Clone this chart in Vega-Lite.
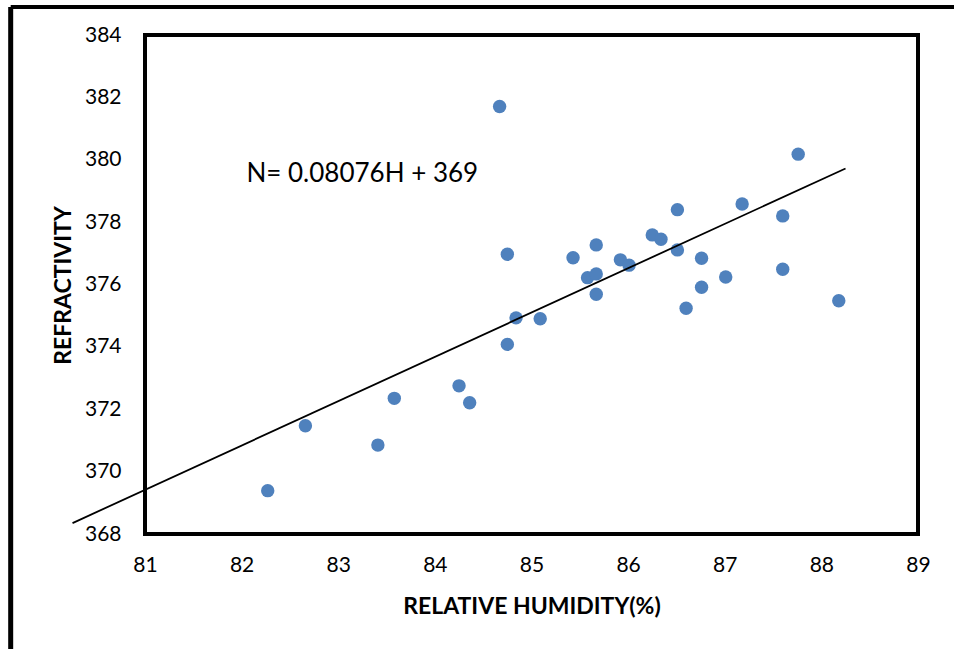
{
  "$schema": "https://vega.github.io/schema/vega-lite/v6.json",
  "width": 773,
  "height": 499,
  "autosize": {"type": "none"},
  "padding": {"left": 145, "top": 35, "right": 36, "bottom": 115},
  "background": "white",
  "config": {
    "view": {"stroke": "black", "strokeWidth": 4},
    "font": "Lato"
  },
  "datasets": {
    "points": [
      {"rh": 82.27, "n": 369.39},
      {"rh": 82.66, "n": 371.47},
      {"rh": 83.41, "n": 370.85},
      {"rh": 83.58, "n": 372.35},
      {"rh": 84.25, "n": 372.75},
      {"rh": 84.36, "n": 372.21},
      {"rh": 84.67, "n": 381.71},
      {"rh": 84.75, "n": 376.97},
      {"rh": 84.75, "n": 374.08},
      {"rh": 84.84, "n": 374.93},
      {"rh": 85.09, "n": 374.9},
      {"rh": 85.43, "n": 376.86},
      {"rh": 85.58, "n": 376.22},
      {"rh": 85.67, "n": 377.27},
      {"rh": 85.67, "n": 376.34},
      {"rh": 85.67, "n": 375.69},
      {"rh": 85.92, "n": 376.79},
      {"rh": 86.01, "n": 376.62},
      {"rh": 86.25, "n": 377.59},
      {"rh": 86.34, "n": 377.45},
      {"rh": 86.51, "n": 378.4},
      {"rh": 86.51, "n": 377.11},
      {"rh": 86.6, "n": 375.24},
      {"rh": 86.76, "n": 376.84},
      {"rh": 86.76, "n": 375.91},
      {"rh": 87.01, "n": 376.24},
      {"rh": 87.18, "n": 378.58},
      {"rh": 87.6, "n": 378.2},
      {"rh": 87.6, "n": 376.49},
      {"rh": 87.76, "n": 380.18},
      {"rh": 88.18, "n": 375.48}
    ],
    "trend": [
      {"rh": 80.25, "n": 368.35},
      {"rh": 88.25, "n": 379.72}
    ],
    "eq": [
      {"rh": 82.05, "n": 379.3, "label": "N= 0.08076H + 369"}
    ],
    "outerV": [
      {"x": 79.61, "y": 384.9, "y2": 364.2}
    ],
    "outerH": [
      {"x": 79.61, "x2": 89.4, "y": 384.9}
    ]
  },
  "layer": [
    {
      "data": {"name": "outerV"},
      "mark": {"type": "rule", "color": "black", "strokeWidth": 5, "clip": false},
      "encoding": {
        "x": {"field": "x", "type": "quantitative"},
        "y": {"field": "y", "type": "quantitative"},
        "y2": {"field": "y2"}
      }
    },
    {
      "data": {"name": "outerH"},
      "mark": {"type": "rule", "color": "black", "strokeWidth": 4, "clip": false},
      "encoding": {
        "x": {"field": "x", "type": "quantitative"},
        "x2": {"field": "x2"},
        "y": {"field": "y", "type": "quantitative"}
      }
    },
    {
      "data": {"name": "points"},
      "mark": {"type": "circle", "size": 180, "color": "#4F81BD", "opacity": 1},
      "encoding": {
        "x": {
          "field": "rh",
          "type": "quantitative",
          "scale": {"domain": [81, 89], "nice": false, "zero": false},
          "axis": {
            "title": "RELATIVE HUMIDITY(%)",
            "values": [81, 82, 83, 84, 85, 86, 87, 88, 89],
            "format": "d",
            "domain": false,
            "ticks": false,
            "grid": false,
            "labelFont": "Lato",
            "labelFontSize": 21,
            "labelColor": "black",
            "labelPadding": 20,
            "labelFlush": false,
            "titleFont": "Lato",
            "titleFontSize": 23,
            "titleFontWeight": "bold",
            "titleColor": "black",
            "titleBaseline": "middle",
            "titleY": 72
          }
        },
        "y": {
          "field": "n",
          "type": "quantitative",
          "scale": {"domain": [368, 384], "nice": false, "zero": false},
          "axis": {
            "title": "REFRACTIVITY",
            "values": [368, 370, 372, 374, 376, 378, 380, 382, 384],
            "format": "d",
            "domain": false,
            "ticks": false,
            "grid": false,
            "labelFont": "Lato",
            "labelFontSize": 21,
            "labelColor": "black",
            "labelPadding": 24,
            "labelFlush": false,
            "titleFont": "Lato",
            "titleFontSize": 23,
            "titleFontWeight": "bold",
            "titleColor": "black",
            "titleAngle": -90,
            "titleAlign": "center",
            "titleBaseline": "middle",
            "titleX": -82,
            "titleY": 250
          }
        }
      }
    },
    {
      "data": {"name": "trend"},
      "mark": {"type": "line", "color": "black", "strokeWidth": 1.8, "clip": false},
      "encoding": {
        "x": {"field": "rh", "type": "quantitative"},
        "y": {"field": "n", "type": "quantitative"}
      }
    },
    {
      "data": {"name": "eq"},
      "mark": {"type": "text", "align": "left", "baseline": "alphabetic", "fontSize": 26, "font": "Lato", "color": "black"},
      "encoding": {
        "x": {"field": "rh", "type": "quantitative"},
        "y": {"field": "n", "type": "quantitative"},
        "text": {"field": "label"}
      }
    }
  ]
}
